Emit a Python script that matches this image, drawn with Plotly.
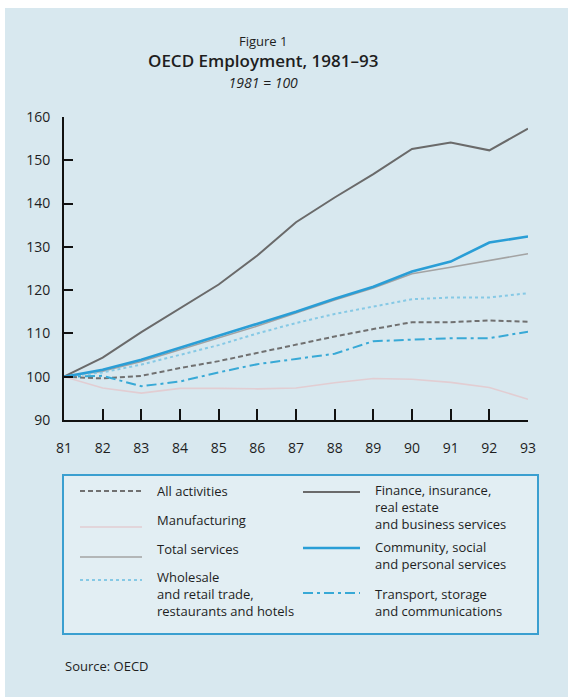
import plotly.graph_objects as go

# OECD employment indices, 1981 = 100
years = [81, 82, 83, 84, 85, 86, 87, 88, 89, 90, 91, 92, 93]
all_activities = [100, 99.6, 100.2, 102.0, 103.6, 105.5, 107.5, 109.3, 111.0, 112.6, 112.6, 113.0, 112.7]
manufacturing = [100, 97.4, 96.2, 97.3, 97.3, 97.2, 97.4, 98.6, 99.6, 99.4, 98.7, 97.5, 94.8]
total_services = [100, 101.3, 103.5, 106.2, 109.0, 111.7, 114.7, 117.7, 120.5, 123.8, 125.3, 126.9, 128.4]
wholesale_retail = [100, 101.0, 102.8, 105.0, 107.3, 110.0, 112.4, 114.5, 116.2, 117.9, 118.3, 118.3, 119.3]
finance_business = [100, 104.4, 110.3, 115.8, 121.3, 128.0, 135.7, 141.4, 146.8, 152.6, 154.1, 152.3, 157.3]
community_social = [100, 101.6, 103.9, 106.7, 109.5, 112.2, 115.0, 118.0, 120.8, 124.3, 126.6, 131.0, 132.4]
transport_comm = [100, 100.2, 97.8, 98.9, 101.0, 102.9, 104.1, 105.3, 108.2, 108.5, 108.9, 108.9, 110.4]

x_ticks = [81, 82, 83, 84, 85, 86, 87, 88, 89, 90, 91, 92, 93]
y_ticks = [90, 100, 110, 120, 130, 140, 150, 160]

W, H = 568, 697
L, R, T, B = 64, 40, 117, 277
PW, PH = W - L - R, H - T - B
FONT = "Open Sans"
BG = "#d8e8ef"
TXT = "#1e1e1e"


def px(x):
    return (x - L) / PW


def py(y):
    return (H - B - y) / PH


styles = {
    "man": dict(color="#e2cdd2", width=1.6),
    "tot": dict(color="#a3a3a3", width=1.6),
    "whl": dict(color="#86c9e5", width=2, dash="3px,3px"),
    "all": dict(color="#707070", width=2, dash="5px,3px"),
    "trn": dict(color="#38a9d6", width=2, dash="10px,4px,3px,4px"),
    "fin": dict(color="#6a6a6a", width=2),
    "com": dict(color="#2a9ed6", width=2.6),
}

series = [
    ("Manufacturing", manufacturing, "man"),
    ("Total services", total_services, "tot"),
    ("Wholesale and retail trade, restaurants and hotels", wholesale_retail, "whl"),
    ("All activities", all_activities, "all"),
    ("Transport, storage and communications", transport_comm, "trn"),
    ("Finance, insurance, real estate and business services", finance_business, "fin"),
    ("Community, social and personal services", community_social, "com"),
]

fig = go.Figure()
for name, vals, key in series:
    fig.add_trace(go.Scatter(x=years, y=vals, mode="lines", name=name,
                             line=styles[key], showlegend=False))

shapes = []
annotations = []

# page frame: white margin strip at top-left, tinted page elsewhere
shapes.append(dict(type="rect", xref="paper", yref="paper", layer="below",
                   x0=px(0), x1=px(W), y0=py(0), y1=py(8),
                   fillcolor="white", line=dict(width=0)))
shapes.append(dict(type="rect", xref="paper", yref="paper", layer="below",
                   x0=px(0), x1=px(5), y0=py(0), y1=py(H),
                   fillcolor="white", line=dict(width=0)))

# three-line heading as one text block
heading = ("<span style='font-size:13px'>Figure 1</span><br>"
           "<span style='font-size:17px;font-weight:600'>OECD Employment, 1981–93</span><br>"
           "<span style='font-size:14px'><i>1981 = 100</i></span>")
annotations.append(dict(text=heading, xref="paper", yref="paper", x=px(263), y=py(62),
                        xanchor="center", yanchor="middle", align="center", showarrow=False,
                        font=dict(family=FONT, size=16, color=TXT)))

# legend box
shapes.append(dict(type="rect", xref="paper", yref="paper",
                   x0=px(63), x1=px(538), y0=py(475), y1=py(634),
                   fillcolor="#e2eef3", line=dict(color="#3a9fd0", width=2), layer="below"))

# (style, sample x0, sample x1, sample y, text x, label lines, text block centre y)
legend_items = [
    ("all", 80, 142, 491, 155, ["All activities"], 491),
    ("man", 80, 142, 527, 155, ["Manufacturing"], 520),
    ("tot", 80, 142, 557, 155, ["Total services"], 549),
    ("whl", 80, 142, 580, 155, ["Wholesale", "and retail trade,", "restaurants and hotels"], 594),
    ("fin", 303, 360, 492, 373, ["Finance, insurance,", "real estate", "and business services"], 507),
    ("com", 303, 360, 548, 373, ["Community, social", "and personal services"], 555),
    ("trn", 303, 360, 593, 373, ["Transport, storage", "and communications"], 602),
]
for key, lx0, lx1, ly, tx, lines, ty in legend_items:
    st = styles[key]
    shapes.append(dict(type="line", xref="paper", yref="paper",
                       x0=px(lx0), x1=px(lx1), y0=py(ly), y1=py(ly),
                       line=dict(color=st["color"], width=st["width"], dash=st.get("dash", "solid"))))
    annotations.append(dict(text="<br>".join(lines), xref="paper", yref="paper",
                            x=px(tx), y=py(ty), align="left",
                            xanchor="left", yanchor="middle", showarrow=False,
                            font=dict(family=FONT, size=13, color=TXT)))

annotations.append(dict(text="Source: OECD", xref="paper", yref="paper",
                        x=px(63), y=py(666), xanchor="left", yanchor="middle",
                        showarrow=False, font=dict(family=FONT, size=13, color=TXT)))

axis_common = dict(showgrid=False, zeroline=False, showline=True, linecolor="#111",
                   linewidth=2, ticks="inside", tickcolor="#111", tickwidth=2,
                   tickfont=dict(family=FONT, size=14, color=TXT))

fig.update_layout(
    width=W, height=H,
    margin=dict(l=L, r=R, t=T, b=B),
    paper_bgcolor=BG, plot_bgcolor="rgba(0,0,0,0)",
    shapes=shapes, annotations=annotations,
    xaxis=dict(range=[81, 93], tickvals=x_ticks, ticklen=11,
               ticklabelstandoff=14, **axis_common),
    yaxis=dict(range=[90, 160], tickvals=y_ticks, ticklen=9,
               ticklabelstandoff=9, **axis_common),
)

fig.write_html("out.html")
